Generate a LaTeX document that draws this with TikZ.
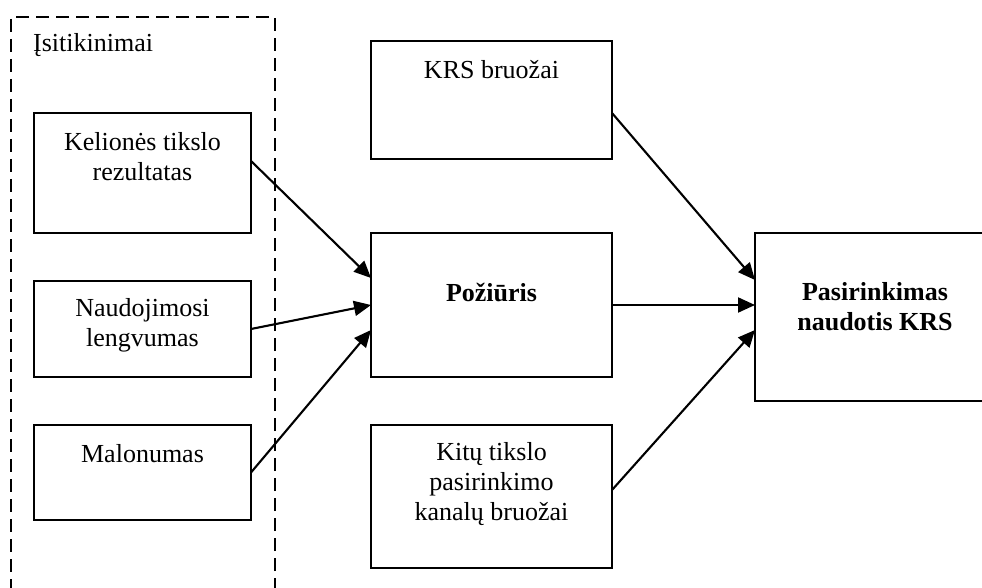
\documentclass[tikz,border=0pt]{standalone}
\usepackage{fontspec}
\setmainfont{Liberation Serif}
\usetikzlibrary{arrows.meta}
\begin{document}
\begin{tikzpicture}[x=1pt,y=-1pt,
  box/.style={draw, line width=1.4pt, inner sep=0pt, outer sep=0pt},
  group/.style={draw, line width=1.4pt, dash pattern=on 13pt off 7pt,
    inner sep=0pt, outer sep=0pt, anchor=north west},
  lbl/.style={font=\fontsize{26}{30}\selectfont, align=center, inner sep=0pt},
  hdr/.style={lbl, font=\fontsize{26}{30}\selectfont\bfseries},
  link/.style={line width=2.1pt, -{Triangle[length=17pt,width=15pt]}},
]
\useasboundingbox (0,0) rectangle (982,588);
\clip (0,0) rectangle (982,588);

% beliefs group
\node[group, minimum width=264pt, minimum height=590pt] (grp) at (11,17) {};
\node[lbl, anchor=base west] (grplbl) at (33,52) {Įsitikinimai};

% belief boxes
\node[box, minimum width=217pt, minimum height=120pt] (b1) at (142.5,173) {};
\node[box, minimum width=217pt, minimum height=96pt]  (b2) at (142.5,329) {};
\node[box, minimum width=217pt, minimum height=95pt]  (b3) at (142.5,472.5) {};
\node[lbl] (t1) at (142.5,156.5) {Kelionės tikslo\\rezultatas};
\node[lbl] (t2) at (142.5,325) {Naudojimosi\\lengvumas};
\node[lbl] (t3) at (142.5,453.8) {Malonumas};

% middle column
\node[box, minimum width=241pt, minimum height=118pt] (krs)   at (491.5,100) {};
\node[box, minimum width=241pt, minimum height=144pt] (att)   at (491.5,305) {};
\node[box, minimum width=241pt, minimum height=143pt] (other) at (491.5,496.5) {};
\node[lbl] (tkrs)   at (491.5,69.1) {KRS bruožai};
\node[hdr] (tatt)   at (491.5,292) {Požiūris};
\node[lbl] (tother) at (491.5,484) {Kitų tikslo\\pasirinkimo\\kanalų bruožai};

% outcome
\node[box, minimum width=240pt, minimum height=168pt] (choice) at (875,317) {};
\node[hdr] (tchoice) at (875,306.5) {Pasirinkimas\\naudotis KRS};

% links
\draw[link] ([yshift=12pt]b1.east) -- ([yshift=27pt]att.west);
\draw[link] (b2.east) -- (att.west);
\draw[link] (b3.east) -- ([yshift=-25pt]att.west);
\draw[link] ([yshift=-13pt]krs.east) -- ([yshift=37pt]choice.west);
\draw[link] (att.east) -- ([yshift=12pt]choice.west);
\draw[link] ([yshift=6.5pt]other.east) -- ([yshift=-13pt]choice.west);
\end{tikzpicture}
\end{document}
